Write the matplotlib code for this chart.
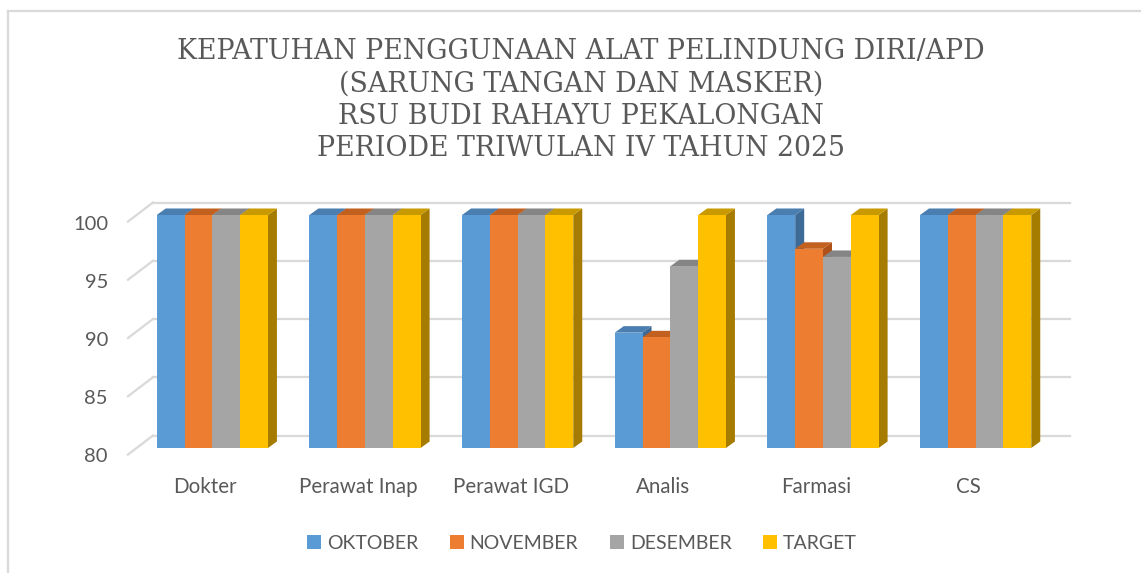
import matplotlib
matplotlib.use("Agg")
import matplotlib.pyplot as plt
from matplotlib.patches import Polygon, Patch
from matplotlib.lines import Line2D
import numpy as np

# ------------------------------------------------------------
# data
# ------------------------------------------------------------
categories = ["Dokter", "Perawat Inap", "Perawat IGD", "Analis", "Farmasi", "CS"]
series_names = ["OKTOBER", "NOVEMBER", "DESEMBER", "TARGET"]
oktober = [100, 100, 100, 89.9, 100, 100]
november = [100, 100, 100, 89.5, 97.1, 100]
desember = [100, 100, 100, 95.6, 96.4, 100]
target = [100, 100, 100, 100, 100, 100]
y_ticks = [80, 85, 90, 95, 100]

title = ("KEPATUHAN PENGGUNAAN ALAT PELINDUNG DIRI/APD\n"
         "(SARUNG TANGAN DAN MASKER)\n"
         "RSU BUDI RAHAYU PEKALONGAN\n"
         "PERIODE TRIWULAN IV TAHUN 2025")

# face colours: front, top, side
FRONT = ["#5B9BD5", "#ED7D31", "#A5A5A5", "#FFC000"]
TOP = ["#4A7DB0", "#C2601F", "#858585", "#C89A00"]
SIDE = ["#3D6A96", "#AE5219", "#747474", "#A67C00"]
TEXT = "#595959"
GRID = "#D9D9D9"

W, H = 1141, 573
fig = plt.figure(figsize=(W / 100, H / 100), dpi=100, facecolor="white")

# plot area in pixels (front face of the bars)
x0, x1 = 136, 1052
y_top, y_bot = 215, 448
ax = fig.add_axes([x0 / W, 1 - y_bot / H, (x1 - x0) / W, (y_bot - y_top) / H])
ax.set_xlim(-0.5, len(categories) - 0.5)
ax.set_ylim(80, 100)
ax.axis("off")

px_x = (x1 - x0) / len(categories)      # pixels per category
px_y = (y_bot - y_top) / 20.0            # pixels per value unit

def dxp(p):
    return p / px_x

def dyp(p):
    return p / px_y

# back wall grid + left wall diagonals
wall_left = -0.5 + dxp(153 - x0)
wall_right = -0.5 + dxp(1070 - x0)
front_left = -0.5 + dxp(128 - x0)
for v in y_ticks:
    yb = v + dyp(12.5)
    yf = v - dyp(6.5)
    ax.add_line(Line2D([wall_left, wall_right], [yb, yb], color=GRID, lw=1.6,
                       clip_on=False, zorder=1))
    ax.add_line(Line2D([front_left, wall_left], [yf, yb], color=GRID, lw=1.6,
                       clip_on=False, zorder=1))
    ax.text(front_left - dxp(20), v - dyp(9), str(v), ha="right", va="center",
            fontsize=14.5, color=TEXT, family="Lato")

# bars with depth
all_series = [oktober, november, desember, target]
bw = dxp(27.8)
ddx, ddy = dxp(9), dyp(6.5)
base = 80
x = np.arange(len(categories))
for ci in range(len(categories)):
    for si, vals in enumerate(all_series):
        v = vals[ci]
        left = x[ci] - 2 * bw + si * bw
        right = left + bw
        z = 3 + si * 3
        side = Polygon([(right, base), (right + ddx, base + ddy),
                        (right + ddx, v + ddy), (right, v)],
                       closed=True, fc=SIDE[si], ec="none", clip_on=False, zorder=z)
        top = Polygon([(left, v), (left + ddx, v + ddy),
                       (right + ddx, v + ddy), (right, v)],
                      closed=True, fc=TOP[si], ec="none", clip_on=False, zorder=z)
        ax.add_patch(side)
        ax.add_patch(top)
        ax.bar(left, v - base, bottom=base, width=bw, align="edge",
               color=FRONT[si], edgecolor="none", zorder=z + 1, clip_on=False)

# category labels
for ci, name in enumerate(categories):
    ax.text(x[ci] - dxp(7), base - dyp(39), name, ha="center", va="center",
            fontsize=14.8, color=TEXT, family="Lato")

# title
fig.text(581 / W, 1 - 100 / H, title, ha="center", va="center", fontsize=19.3,
         color=TEXT, family="DejaVu Serif", linespacing=1.26)

# legend
handles = [Patch(facecolor=FRONT[i], edgecolor="none", label=series_names[i])
           for i in range(4)]
leg = fig.legend(handles=handles, loc="center", bbox_to_anchor=(582 / W, 1 - 543.5 / H),
                 ncol=4, frameon=False, handlelength=0.72, handleheight=0.72,
                 handletextpad=0.31, columnspacing=1.62,
                 prop={"family": "Lato", "size": 14})
for t in leg.get_texts():
    t.set_color(TEXT)

# chart border (top and left edges visible)
fig.add_artist(Line2D([7.5 / W, 7.5 / W], [0, 1 - 11 / H], transform=fig.transFigure,
                      color=GRID, lw=1.6))
fig.add_artist(Line2D([7.5 / W, 1], [1 - 11 / H, 1 - 11 / H], transform=fig.transFigure,
                      color=GRID, lw=1.6))

fig.savefig("out.png", dpi=100, facecolor=fig.get_facecolor())
